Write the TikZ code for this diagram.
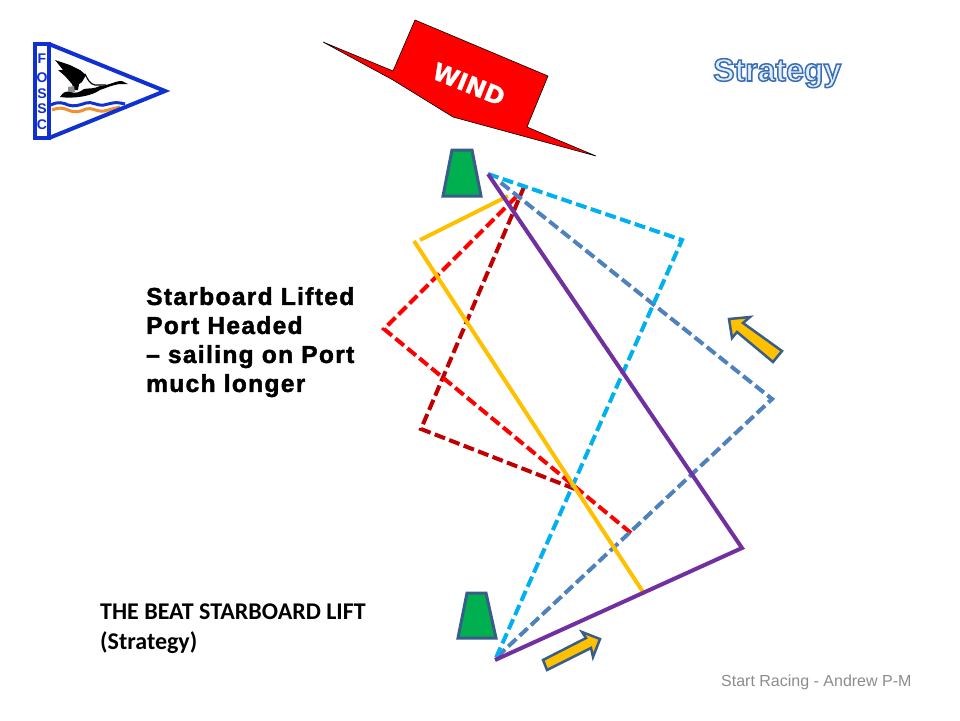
\documentclass[tikz,border=0pt]{standalone}
\usepackage{fontspec}
\setmainfont{Liberation Sans}
\newfontfamily\notefont[LetterSpace=5.5,FakeBold=1.8]{Liberation Sans}
\newfontfamily\titlefont{Carlito}
\newfontfamily\windfont[FakeBold=1]{DejaVu Sans}
\definecolor{legpurple}{HTML}{7030A0}
\definecolor{legyellow}{HTML}{FFC000}
\definecolor{legsky}{HTML}{00B0F0}
\definecolor{legsteel}{HTML}{4F81BD}
\definecolor{legred}{HTML}{FF0000}
\definecolor{legdark}{HTML}{C00000}
\definecolor{edgeblue}{HTML}{385D8A}
\definecolor{buoygreen}{HTML}{00B050}
\definecolor{flagblue}{HTML}{1030D0}
\definecolor{flagorange}{HTML}{F09030}
\begin{document}
\begin{tikzpicture}[x=1pt, y=-1pt,
                    leg/.style = {line width=4pt},
                    tack/.style = {line width=4pt, dash pattern=on 11pt off 4.5pt},
                    buoy/.style = {draw=edgeblue, fill=buoygreen, line width=3pt},
                    pointer/.style = {draw=edgeblue, fill=legyellow, line width=2.5pt},
                    main/.style = {inner sep=0pt, anchor=base west}]
\useasboundingbox (0,0) rectangle (960,720);
% logo
\draw[flagorange, line width=3pt] (52,110) .. controls (60,107) and (63,108) .. (68,110) .. controls (74,113) and (80,112) .. (86,109) .. controls (92,107) and (96,112) .. (104,111) -- (120,107);
\draw[flagblue, line width=3pt] (51,105) .. controls (58,101) and (64,103) .. (68,105) .. controls (74,107) and (80,105) .. (86,103) .. controls (92,101) and (96,106) .. (104,105) .. controls (110,104) and (114,101) .. (125,104);
\draw[flagblue, line width=4pt] (35,44) rectangle (49,138);
\draw[flagblue, line width=4pt] (49,44) -- (165,91) -- (49,138);
\foreach \name/\txt/\ypos in {f/F/63, o/O/82, s/S/98, t/S/113, c/C/129}
  \node[main, anchor=base, font=\bfseries\fontsize{14}{14}\selectfont, text=flagblue] (\name) at (42,\ypos) {\txt};
\fill[black] (55,60) -- (70,65) -- (80,70) -- (86,75) -- (82,82) -- (79,84) -- (78,90) -- (74,90) -- (72,84) -- (65,76) -- (58,70) -- (63,70) -- cycle;
\fill[black!45] (68,87) -- (74,86) -- (75,92) -- (68,93) -- cycle;
\fill[black] (60,97) .. controls (63,92) and (66,91) .. (70,92) .. controls (76,94) and (80,92) .. (84,89) .. controls (90,88) and (94,89) .. (100,86) .. controls (108,86) and (114,81) .. (122,81) -- (128,84) -- (120,84) .. controls (112,85) and (106,88) .. (100,90) .. controls (92,96) and (74,99) .. (60,97) -- cycle;
\draw[black, line width=1.2pt] (85,74) .. controls (88,80) and (90,84) .. (95,85) -- (106,85);
% wind
\filldraw[fill=red, draw=black, line width=0.6pt] (323,42) -- (393,71) -- (415,20) -- (548,76) -- (527,127) -- (596,156) -- (453,117) -- (393,80) -- cycle;
\node[main, anchor=center, rotate=-22, text=white, font=\windfont\bfseries\fontsize{24}{24}\selectfont] (wind) at (469,84) {WIND};
% heading
\node[main, font=\bfseries\fontsize{32}{32}\selectfont] (heading) at (713,81) {\special{pdf:code 2 Tr 1.5 w 0.23 0.43 0.71 RG 0.88 0.93 0.98 rg}Strategy\special{pdf:code 0 Tr}};
% buoys
\filldraw[buoy] (452,150) -- (472,150) -- (481,196) -- (443,196) -- cycle;
\filldraw[buoy] (467,593) -- (486,593) -- (496,638) -- (458,638) -- cycle;
% corners
\coordinate (top) at (488,174);
\coordinate (bot) at (495,660);
\coordinate (p1) at (742,548);
\coordinate (b1) at (682,240);
\coordinate (s1) at (772,399);
\coordinate (s0) at (500,182);
\coordinate (s2) at (497,657);
\coordinate (r0) at (631,533);
\coordinate (r1) at (384,329);
\coordinate (r2) at (517,196);
\coordinate (d0) at (575,489);
\coordinate (d1) at (421,429);
\coordinate (d2) at (524,187);
\coordinate (y0) at (643,592);
\coordinate (y1) at (414,241);
\coordinate (y2) at (420,240);
\coordinate (y3) at (508,196);
% legs
\draw[tack, legdark] (d0) -- (d1) -- (d2);
\draw[tack, legred] (r0) -- (r1) -- (r2);
\draw[tack, legsteel] (s2) -- (s1) -- (s0);
\draw[tack, legsky] (top) -- (b1) -- (bot);
\draw[leg, legyellow] (y0) -- (y1);
\draw[leg, legyellow] (y2) -- (y3);
\draw[leg, legpurple] (bot) -- (p1) -- (top);
% wind shift arrows
\filldraw[pointer] (543,660) -- (586,638) -- (582,632) -- (600,639) -- (593,657) -- (591,648) -- (547,670) -- cycle;
\filldraw[pointer] (782,351) -- (743,323) -- (750,317) -- (729,319) -- (732,338) -- (737,332) -- (773,362) -- cycle;
% text
\node[anchor=north west, inner sep=0pt, align=left, font=\notefont\bfseries\fontsize{24.5}{29}\selectfont] (note) at (146,287) {Starboard Lifted\\Port Headed\\– sailing on Port\\much longer};
\node[anchor=north west, inner sep=0pt, align=left, font=\titlefont\bfseries\fontsize{24}{30}\selectfont] (title) at (100,604) {THE BEAT STARBOARD LIFT\\(Strategy)};
\node[main, text=black!45, font=\fontsize{16}{16}\selectfont] (credit) at (721,686) {Start Racing - Andrew P-M};
\end{tikzpicture}
\end{document}
